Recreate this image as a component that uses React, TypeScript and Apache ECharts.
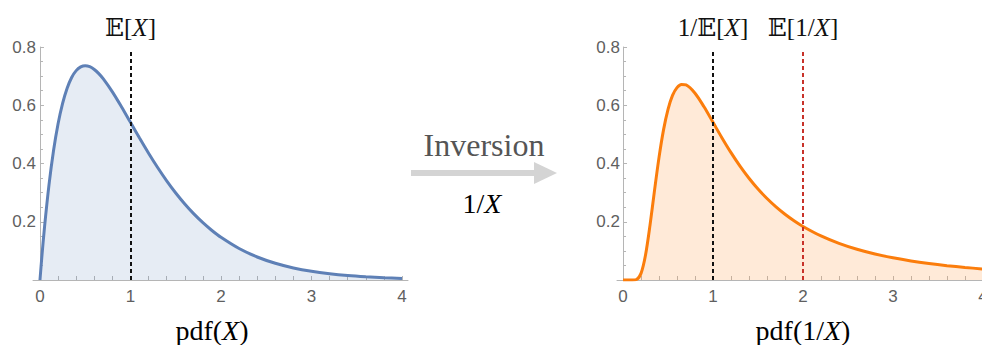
import React, { useEffect, useRef } from "react";
import * as echarts from "echarts";

// ---- data ----
const xGrid = [0, 0.02, 0.05, 0.1, 0.15, 0.2, 0.25, 0.3, 0.35, 0.4, 0.45, 0.5, 0.55, 0.6, 0.65, 0.7, 0.8, 0.9, 1.0, 1.1, 1.2, 1.3, 1.4, 1.5, 1.6, 1.7, 1.8, 1.9, 2.0, 2.2, 2.4, 2.6, 2.8, 3.0, 3.2, 3.4, 3.6, 3.8, 4.0];
const pdfX = [0, 0.0769, 0.181, 0.3275, 0.4445, 0.5363, 0.6065, 0.6586, 0.6954, 0.7189, 0.7316, 0.7358, 0.7323, 0.7229, 0.7086, 0.6905, 0.6461, 0.5951, 0.5413, 0.4875, 0.4354, 0.3862, 0.3405, 0.2987, 0.2609, 0.2269, 0.1967, 0.17, 0.1465, 0.108, 0.079, 0.0574, 0.0414, 0.0297, 0.0213, 0.0151, 0.0108, 0.0076, 0.0054];
const pdfInvX = [0, 0, 0, 0, 0.0019, 0.0227, 0.0859, 0.1885, 0.3076, 0.4211, 0.5155, 0.5861, 0.6338, 0.6606, 0.6714, 0.6698, 0.6413, 0.5946, 0.5413, 0.4878, 0.4372, 0.3909, 0.3493, 0.3124, 0.2798, 0.2511, 0.2258, 0.2035, 0.1839, 0.1513, 0.1258, 0.1054, 0.0892, 0.0761, 0.0653, 0.0565, 0.0492, 0.0431, 0.0379];
const meanX = 1; // E[X]
const invMeanX = 1; // 1/E[X]
const meanInvX = 2; // E[1/X]
const meanLineTop = 0.79;
const xLabelValues = [0, 1, 2, 3, 4];
const xTickValues = [0, 0.2, 0.4, 0.6, 0.8, 1, 1.2, 1.4, 1.6, 1.8, 2, 2.2, 2.4, 2.6, 2.8, 3, 3.2, 3.4, 3.6, 3.8, 4];

const BLUE = "#5E80B6";
const BLUE_FILL = "rgba(94,128,182,0.22)";
const ORANGE = "#FB7D0C";
const ORANGE_FILL = "rgba(253,160,80,0.32)";
const RED = "#C8322A";
const AXIS = "#b5b5b5";
const LABEL = "#5f5f5f";
const SERIF = "'Liberation Serif', 'DejaVu Serif', serif";
const SANS = "'Liberation Sans', Arial, sans-serif";

const mathRich = (size: number, color = "#111") => ({
  n: { fontFamily: SERIF, fontSize: size, color },
  i: { fontFamily: SERIF, fontSize: size, fontStyle: "italic", color },
});

function xAxisDef(gridIndex: number, min: number, max: number) {
  return {
    type: "value",
    gridIndex,
    min,
    max,
    axisLine: { show: true, onZero: true, lineStyle: { color: AXIS, width: 1 } },
    axisTick: { show: true, inside: true, length: 4, customValues: xTickValues, lineStyle: { color: AXIS } },
    axisLabel: { show: true, customValues: xLabelValues, margin: 8, color: LABEL, fontSize: 17, fontFamily: SANS },
    splitLine: { show: false },
  };
}

function yAxisDef(gridIndex: number) {
  return {
    type: "value",
    gridIndex,
    min: 0,
    max: 0.8,
    interval: 0.2,
    axisLine: { show: true, onZero: true, lineStyle: { color: AXIS, width: 1 } },
    axisTick: { show: true, inside: true, length: 4, lineStyle: { color: AXIS } },
    minorTick: { show: true, splitNumber: 4, length: 3, lineStyle: { color: AXIS } },
    axisLabel: { show: true, showMinLabel: false, margin: -3, color: LABEL, fontSize: 17, fontFamily: SANS },
    splitLine: { show: false },
    minorSplitLine: { show: false },
  };
}

function meanLine(x: number, color: string, label: string) {
  return [
    { coord: [x, 0], lineStyle: { color, width: 2, type: [4, 3] } },
    {
      coord: [x, meanLineTop],
      label: {
        show: true,
        position: "end",
        distance: 10,
        formatter: label,
        rich: mathRich(25),
      },
    },
  ];
}

export default function App() {
  const ref = useRef<HTMLDivElement>(null);
  useEffect(() => {
    document.body.style.margin = "0";
    const chart = echarts.init(ref.current!, undefined, { renderer: "svg" });
    const left = xGrid.map((x, i) => [x, pdfX[i]]);
    const right = xGrid.map((x, i) => [x, pdfInvX[i]]);
    chart.setOption({
      animation: false,
      grid: [
        { left: 33, top: 47, width: 375, height: 233 },
        { left: 617, top: 47, width: 372, height: 233 },
      ],
      xAxis: [xAxisDef(0, -0.077, 4.066), xAxisDef(1, -0.067, 4.067)],
      yAxis: [yAxisDef(0), yAxisDef(1)],
      series: [
        {
          type: "line",
          xAxisIndex: 0,
          yAxisIndex: 0,
          data: left,
          smooth: 0.3,
          showSymbol: false,
          symbol: "none",
          lineStyle: { color: BLUE, width: 3 },
          areaStyle: { color: BLUE_FILL, origin: "start" },
          markLine: {
            silent: true,
            symbol: ["none", "none"],
            data: [meanLine(meanX, "#111", "{n|𝔼[}{i|X}{n|]}")],
          },
          z: 3,
        },
        {
          type: "line",
          xAxisIndex: 1,
          yAxisIndex: 1,
          data: right,
          smooth: 0.3,
          showSymbol: false,
          symbol: "none",
          lineStyle: { color: ORANGE, width: 3 },
          areaStyle: { color: ORANGE_FILL, origin: "start" },
          markLine: {
            silent: true,
            symbol: ["none", "none"],
            data: [
              meanLine(invMeanX, "#111", "{n|1/𝔼[}{i|X}{n|]}"),
              meanLine(meanInvX, RED, "{n|𝔼[1/}{i|X}{n|]}"),
            ],
          },
          z: 3,
        },
      ],
      graphic: [
        { type: "rect", shape: { x: 411, y: 170, width: 126, height: 6 }, style: { fill: "#d4d4d4" } },
        { type: "polygon", shape: { points: [[534, 162], [557, 173], [534, 184]] }, style: { fill: "#d4d4d4" } },
        {
          type: "text",
          x: 484,
          y: 145,
          style: { text: "Inversion", fontFamily: SERIF, fontSize: 32, fill: "#555", align: "center", verticalAlign: "middle" },
        },
        {
          type: "text",
          x: 482,
          y: 203,
          style: { text: "{n|1/}{i|X}", rich: mathRich(28), align: "center", verticalAlign: "middle" },
        },
        {
          type: "text",
          x: 212,
          y: 330,
          style: { text: "{n|pdf(}{i|X}{n|)}", rich: mathRich(28), align: "center", verticalAlign: "middle" },
        },
        {
          type: "text",
          x: 803,
          y: 330,
          style: { text: "{n|pdf(1/}{i|X}{n|)}", rich: mathRich(28), align: "center", verticalAlign: "middle" },
        },
      ],
    });
    return () => chart.dispose();
  }, []);
  return (
    <div style={{ width: 982, height: 345, overflow: "hidden" }}>
      <div ref={ref} style={{ width: 1000, height: 345 }} />
    </div>
  );
}
